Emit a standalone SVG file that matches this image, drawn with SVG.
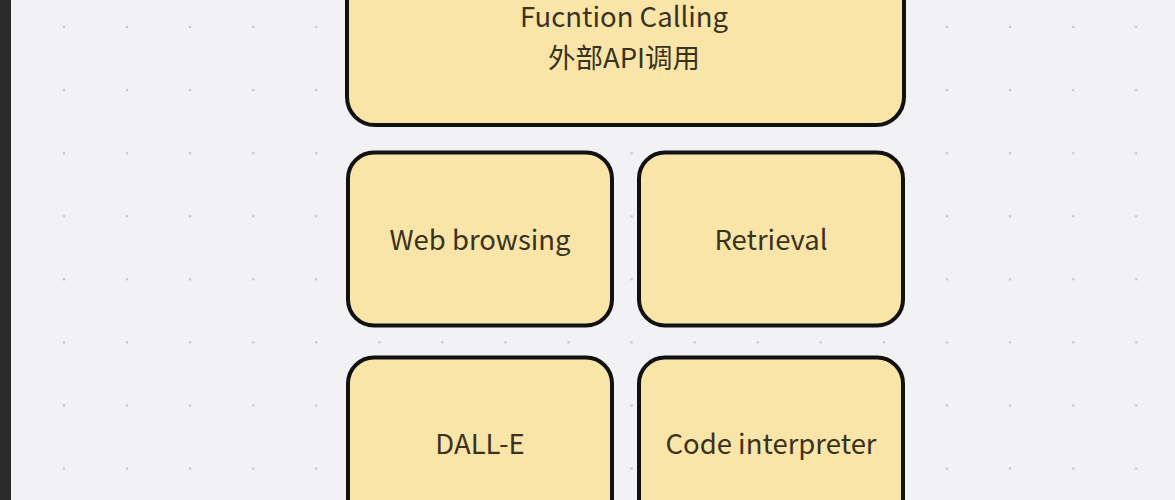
<svg xmlns="http://www.w3.org/2000/svg" width="1175" height="500" viewBox="0 0 1175 500">
<defs>
<pattern id="dots" x="0" y="0" width="63.07" height="63.07" patternUnits="userSpaceOnUse" patternTransform="translate(32.5,-4.5)">
<circle cx="31.5" cy="31.5" r="1.3" fill="#c4c4c8"/>
</pattern>
<style>
.box{fill:#fae5a9;stroke:#111;stroke-width:4}
.lbl{font-family:"Noto Sans CJK SC","Noto Sans",sans-serif;font-size:27.5px;fill:#3a3220;text-anchor:middle;dominant-baseline:central}
</style>
</defs>
<rect width="1175" height="500" fill="#f2f2f4"/>
<rect width="1175" height="500" fill="url(#dots)"/>
<rect x="0" y="0" width="11" height="500" fill="#2a2a2a"/>
<g id="connectors"/>
<g id="node-function-calling">
<rect class="box" x="347" y="-60" width="557" height="185" rx="28"/>
<text class="lbl" x="624" y="15">Fucntion Calling</text>
<text class="lbl" x="624" y="56">外部API调用</text>
</g>
<g id="node-web-browsing">
<rect class="box" x="348" y="152.5" width="264" height="173" rx="26"/>
<text class="lbl" x="480" y="238">Web browsing</text>
</g>
<g id="node-retrieval">
<rect class="box" x="639" y="152.5" width="264" height="173" rx="26"/>
<text class="lbl" x="771" y="238">Retrieval</text>
</g>
<g id="node-dalle">
<rect class="box" x="348" y="357.5" width="264" height="200" rx="26"/>
<text class="lbl" x="480" y="442">DALL-E</text>
</g>
<g id="node-code-interpreter">
<rect class="box" x="639" y="357.5" width="264" height="200" rx="26"/>
<text class="lbl" x="771" y="442">Code interpreter</text>
</g>
</svg>
